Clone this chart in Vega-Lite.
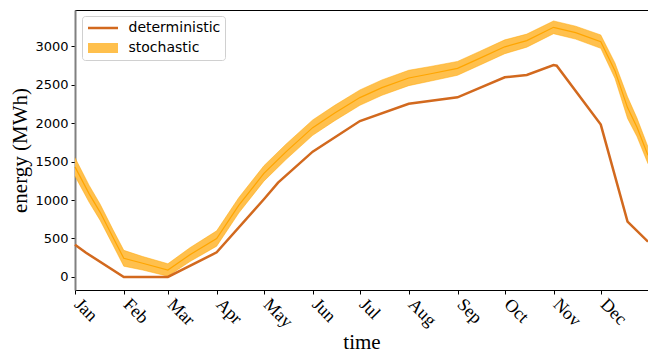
{
  "$schema": "https://vega.github.io/schema/vega-lite/v6.json",
  "width": 573,
  "height": 280,
  "autosize": "none",
  "padding": {"left": 75, "top": 10, "right": 0, "bottom": 65},
  "background": "white",
  "config": {
    "view": {"stroke": "black", "strokeWidth": 1},
    "axis": {"grid": false},
    "legend": {
      "orient": "none",
      "legendX": 7,
      "legendY": 6,
      "padding": 4.5,
      "strokeColor": "#d0d0d0",
      "fillColor": "white",
      "cornerRadius": 3,
      "labelFont": "DejaVu Sans",
      "labelFontSize": 14,
      "labelColor": "black",
      "labelOffset": 9,
      "rowPadding": 5,
      "clipHeight": 15,
      "symbolSize": 900,
      "symbolStrokeWidth": 2.5,
      "symbolDash": [30, 300]
    }
  },
  "datasets": {
    "det": [
      {"date": "2019-01-01", "energy": 420},
      {"date": "2019-01-08", "energy": 315},
      {"date": "2019-02-01", "energy": 0},
      {"date": "2019-03-01", "energy": 0},
      {"date": "2019-04-01", "energy": 320},
      {"date": "2019-05-01", "energy": 1010},
      {"date": "2019-05-10", "energy": 1225},
      {"date": "2019-06-01", "energy": 1628},
      {"date": "2019-07-01", "energy": 2026},
      {"date": "2019-08-01", "energy": 2250},
      {"date": "2019-09-01", "energy": 2334},
      {"date": "2019-10-01", "energy": 2594},
      {"date": "2019-10-15", "energy": 2624},
      {"date": "2019-11-01", "energy": 2754},
      {"date": "2019-11-03", "energy": 2745},
      {"date": "2019-12-01", "energy": 1980},
      {"date": "2019-12-18", "energy": 719},
      {"date": "2019-12-31", "energy": 459}
    ],
    "stoch": [
      {"date": "2019-01-01", "mean": 1430, "lower": 1310, "upper": 1550},
      {"date": "2019-01-10", "mean": 1080, "lower": 970, "upper": 1190},
      {"date": "2019-01-17", "mean": 840, "lower": 735, "upper": 945},
      {"date": "2019-01-25", "mean": 520, "lower": 420, "upper": 620},
      {"date": "2019-02-01", "mean": 243, "lower": 140, "upper": 346},
      {"date": "2019-02-13", "mean": 178, "lower": 90, "upper": 266},
      {"date": "2019-03-01", "mean": 91, "lower": 10, "upper": 172},
      {"date": "2019-03-15", "mean": 290, "lower": 200, "upper": 380},
      {"date": "2019-04-01", "mean": 500, "lower": 400, "upper": 600},
      {"date": "2019-04-15", "mean": 930, "lower": 830, "upper": 1030},
      {"date": "2019-05-01", "mean": 1345, "lower": 1245, "upper": 1445},
      {"date": "2019-05-15", "mean": 1625, "lower": 1525, "upper": 1725},
      {"date": "2019-06-01", "mean": 1940, "lower": 1840, "upper": 2040},
      {"date": "2019-06-15", "mean": 2130, "lower": 2030, "upper": 2230},
      {"date": "2019-07-01", "mean": 2330, "lower": 2230, "upper": 2430},
      {"date": "2019-07-15", "mean": 2460, "lower": 2360, "upper": 2560},
      {"date": "2019-08-01", "mean": 2585, "lower": 2485, "upper": 2685},
      {"date": "2019-08-15", "mean": 2640, "lower": 2545, "upper": 2735},
      {"date": "2019-09-01", "mean": 2710, "lower": 2620, "upper": 2800},
      {"date": "2019-09-15", "mean": 2840, "lower": 2750, "upper": 2930},
      {"date": "2019-10-01", "mean": 2990, "lower": 2900, "upper": 3080},
      {"date": "2019-10-15", "mean": 3070, "lower": 2985, "upper": 3155},
      {"date": "2019-11-01", "mean": 3243, "lower": 3160, "upper": 3326},
      {"date": "2019-11-15", "mean": 3174, "lower": 3090, "upper": 3258},
      {"date": "2019-12-01", "mean": 3057, "lower": 2970, "upper": 3144},
      {"date": "2019-12-10", "mean": 2680, "lower": 2580, "upper": 2780},
      {"date": "2019-12-18", "mean": 2200, "lower": 2060, "upper": 2340},
      {"date": "2019-12-24", "mean": 1944, "lower": 1824, "upper": 2064},
      {"date": "2019-12-31", "mean": 1580, "lower": 1470, "upper": 1690}
    ]
  },
  "encoding": {
    "x": {
      "field": "date",
      "type": "temporal",
      "scale": {
        "type": "utc",
        "domain": [
          {"year": 2019, "month": 1, "date": 1, "utc": true},
          {"year": 2019, "month": 12, "date": 31, "utc": true}
        ]
      },
      "axis": {
        "format": "%b",
        "tickCount": {"interval": "month", "step": 1},
        "labelAngle": 45,
        "labelAlign": "left",
        "labelBaseline": "top",
        "labelFont": "Liberation Serif",
        "labelFontSize": 18,
        "labelColor": "black",
        "labelOverlap": false,
        "labelFlush": false,
        "labelPadding": 1,
        "labelOffset": 8,
        "domainColor": "black",
        "domainWidth": 1,
        "tickColor": "black",
        "tickSize": 4,
        "title": "time",
        "titleFont": "Liberation Serif",
        "titleFontSize": 21,
        "titleFontWeight": "normal",
        "titleColor": "black",
        "titlePadding": 0
      }
    }
  },
  "layer": [
    {
      "data": {"name": "stoch"},
      "mark": {"type": "area"},
      "encoding": {
        "y": {
          "field": "lower",
          "type": "quantitative",
          "scale": {"domain": [-169, 3468], "nice": false, "zero": false},
          "axis": {
            "values": [0, 500, 1000, 1500, 2000, 2500, 3000],
            "format": "d",
            "labelFont": "DejaVu Sans",
            "labelFontSize": 13,
            "labelColor": "black",
            "labelPadding": 3,
            "domainColor": "#808080",
            "domainWidth": 2,
            "tickColor": "black",
            "tickSize": 4,
            "title": "energy (MWh)",
            "titleFont": "Liberation Serif",
            "titleFontSize": 21,
            "titleFontWeight": "normal",
            "titleColor": "black",
            "titlePadding": 4
          }
        },
        "y2": {"field": "upper"},
        "fill": {
          "datum": "stochastic",
          "type": "nominal",
          "scale": {"domain": ["deterministic", "stochastic"], "range": ["transparent", "#FFC04D"]},
          "legend": {
            "title": null,
            "symbolType": "M-1,0H1V0.34H-1V-0.34H1V0Z"
          }
        }
      }
    },
    {
      "data": {"name": "stoch"},
      "mark": {"type": "line", "color": "#FFA500", "strokeWidth": 0.8, "opacity": 0.6},
      "encoding": {"y": {"field": "lower", "type": "quantitative"}}
    },
    {
      "data": {"name": "stoch"},
      "mark": {"type": "line", "color": "#FFA500", "strokeWidth": 0.8, "opacity": 0.6},
      "encoding": {"y": {"field": "upper", "type": "quantitative"}}
    },
    {
      "data": {"name": "stoch"},
      "mark": {"type": "line", "color": "#FFA500", "strokeWidth": 1.2},
      "encoding": {"y": {"field": "mean", "type": "quantitative"}}
    },
    {
      "data": {"name": "det"},
      "mark": {"type": "line", "strokeWidth": 2.5},
      "encoding": {
        "y": {"field": "energy", "type": "quantitative"},
        "color": {
          "datum": "deterministic",
          "type": "nominal",
          "scale": {"domain": ["deterministic", "stochastic"], "range": ["#D2691E", "transparent"]},
          "legend": {
            "title": null,
            "symbolType": "M-1,0H1V0.34H-1V-0.34H1V0Z"
          }
        }
      }
    }
  ]
}
